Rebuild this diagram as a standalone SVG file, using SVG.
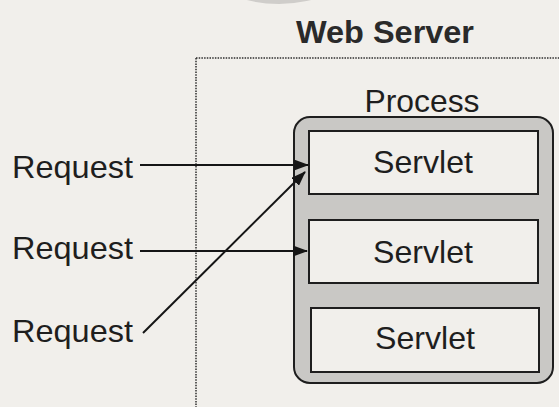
<svg xmlns="http://www.w3.org/2000/svg" width="559" height="407" viewBox="0 0 559 407">
  <defs>
    <style>
      .lbl { font-family: "Liberation Sans", Arial, Helvetica, sans-serif; font-size: 32px; fill: #1e1e1e; }
      .title { font-weight: bold; font-size: 32px; fill: #2a2a2a; }
      .servlet { fill: #f1efeb; stroke: #1e1e1e; stroke-width: 2; }
      .conn { stroke: #151515; stroke-width: 2; fill: none; marker-end: url(#arrow); }
    </style>
    <marker id="arrow" viewBox="0 0 15 11" refX="14" refY="5.5" markerWidth="15" markerHeight="11" markerUnits="userSpaceOnUse" orient="auto">
      <path d="M0,0 L15,5.5 L0,11 Z" fill="#151515"/>
    </marker>
  </defs>

  <!-- paper background -->
  <rect x="0" y="0" width="559" height="407" fill="#f1efeb"/>
  <!-- cut-off shape at top edge -->
  <ellipse cx="279" cy="-34" rx="72" ry="38" fill="#cfcdca"/>

  <g id="web-server">
    <text class="lbl title" x="385" y="43" text-anchor="middle" textLength="178" lengthAdjust="spacingAndGlyphs">Web Server</text>
    <path d="M196,58 H565 M196,58 V412" stroke="#2e2e2e" stroke-width="1.5" stroke-dasharray="1.5,1.2" fill="none"/>
  </g>

  <g id="process">
    <text class="lbl" x="422" y="112" text-anchor="middle" textLength="115" lengthAdjust="spacingAndGlyphs">Process</text>
    <rect x="294" y="117" width="259" height="266" rx="16" ry="16" fill="#c9c8c5" stroke="#1e1e1e" stroke-width="2"/>
  </g>

  <g id="servlet-1">
    <rect class="servlet" x="309" y="131" width="229" height="63"/>
    <text class="lbl" x="423" y="173" text-anchor="middle" textLength="100" lengthAdjust="spacingAndGlyphs">Servlet</text>
  </g>
  <g id="servlet-2">
    <rect class="servlet" x="309" y="220" width="229" height="63"/>
    <text class="lbl" x="423" y="263" text-anchor="middle" textLength="100" lengthAdjust="spacingAndGlyphs">Servlet</text>
  </g>
  <g id="servlet-3">
    <rect class="servlet" x="311" y="308" width="228" height="64"/>
    <text class="lbl" x="425" y="349" text-anchor="middle" textLength="100" lengthAdjust="spacingAndGlyphs">Servlet</text>
  </g>

  <g id="request-1">
    <text class="lbl" x="12" y="178" textLength="121" lengthAdjust="spacingAndGlyphs">Request</text>
  </g>
  <g id="request-2">
    <text class="lbl" x="12" y="259" textLength="121" lengthAdjust="spacingAndGlyphs">Request</text>
  </g>
  <g id="request-3">
    <text class="lbl" x="12" y="342" textLength="121" lengthAdjust="spacingAndGlyphs">Request</text>
  </g>

  <g id="connectors">
    <line class="conn" x1="140" y1="165" x2="308" y2="165"/>
    <line class="conn" x1="140" y1="251" x2="307" y2="251"/>
    <line class="conn" x1="143" y1="333" x2="305" y2="172"/>
  </g>
</svg>
